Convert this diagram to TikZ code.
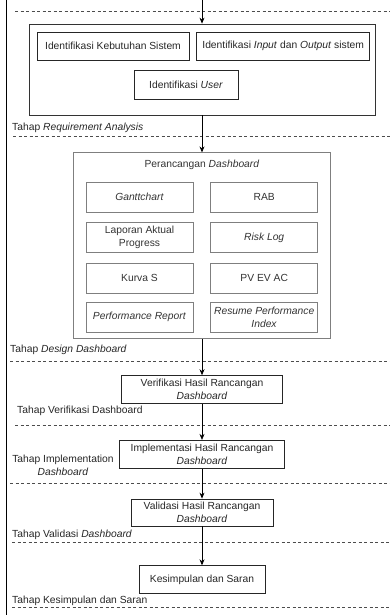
\documentclass[tikz,border=0pt]{standalone}
\usepackage{fontspec}
\setmainfont{Liberation Sans}
\usetikzlibrary{positioning,arrows.meta}
\definecolor{groupgrey}{HTML}{7F7F7F}
\definecolor{textgrey}{HTML}{333333}

\begin{document}
\begin{tikzpicture}[
  x=1pt, y=-1pt,
  font=\fontsize{10.3}{13}\selectfont,
  stage/.style = {draw=black!80, line width=.8pt, minimum width=346pt, minimum height=91pt},
  design_box/.style = {draw=groupgrey, line width=.8pt, minimum width=257pt, minimum height=186pt},
  task/.style = {draw=black!85, line width=.7pt, align=center, inner sep=1pt, text=black!85},
  item/.style = {draw=groupgrey, line width=.7pt, align=center, inner sep=1pt, minimum width=107pt, minimum height=30pt, text=textgrey},
  phase_lab/.style = {anchor=west, inner sep=0pt, text=black!85},
  flow/.style = {-{Stealth[length=6pt,width=5pt]}, line width=.7pt},
  divider/.style = {dash pattern=on 3pt off 2.5pt, black!70, line width=.7pt}
  ]

  \useasboundingbox (0,0) rectangle (390,615);

  \node[stage] (req) at (202,69.5) {};
  \node[task, minimum width=152pt, minimum height=28pt] (kebutuhan) at (113,46) {Identifikasi Kebutuhan Sistem};
  \node[task, minimum width=173pt, minimum height=28pt, right=7pt of kebutuhan] (io) {Identifikasi \textit{Input} dan \textit{Output} sistem};
  \node[task, minimum width=104pt, minimum height=29pt] (user) at (186,84.5) {Identifikasi \textit{User}};

  \node[design_box, below=37pt of req] (design) {};
  \node[text=textgrey] (design_title) at (202,165) {Perancangan \textit{Dashboard}};
  \node[item] (gantt) at (139.5,197) {\textit{Ganttchart}};
  \node[item, right=17pt of gantt] (rab) {RAB};
  \node[item, below=10pt of gantt] (laporan) {Laporan Aktual\\Progress};
  \node[item, below=10pt of rab] (risk) {\textit{Risk Log}};
  \node[item, below=10pt of laporan] (kurva) {Kurva S};
  \node[item, below=10pt of risk] (pvevac) {PV EV AC};
  \node[item, below=8pt of kurva] (perf) {\textit{Performance Report}};
  \node[item, below=8pt of pvevac] (resume) {\textit{Resume Performance}\\\textit{Index}};

  \node[task, minimum width=161pt, minimum height=28pt, below=36pt of design] (verif) {Verifikasi Hasil Rancangan\\\textit{Dashboard}};
  \node[task, minimum width=165pt, minimum height=28pt, below=36pt of verif] (impl) {Implementasi Hasil Rancangan\\\textit{Dashboard}};
  \node[task, minimum width=142pt, minimum height=27pt, below=30pt of impl] (valid) {Validasi Hasil Rancangan\\\textit{Dashboard}};
  \node[task, minimum width=126pt, minimum height=28pt, below=39pt of valid] (kes) {Kesimpulan dan Saran};

  % phase names sit above each dashed divider
  \node[phase_lab] (lab_req) at (12,128) {Tahap \textit{Requirement Analysis}};
  \node[phase_lab] (lab_design) at (10,350) {Tahap \textit{Design Dashboard}};
  \node[phase_lab] (lab_verif) at (17,411) {Tahap Verifikasi Dashboard};
  \node[align=center, text=black!85, inner sep=0pt] (lab_impl) at (63,465) {Tahap Implementation\\\textit{Dashboard}};
  \node[phase_lab] (lab_valid) at (12,535) {Tahap Validasi \textit{Dashboard}};
  \node[phase_lab] (lab_kes) at (12,601) {Tahap Kesimpulan dan Saran};

  \foreach \y/\x in {11/15, 136/13, 361/10, 425/15, 483/10, 542/12, 607/12}
    \draw[divider] (\x,\y) -- (390,\y);
  \draw[line width=.9pt] (6,0) -- (6,615);

  \coordinate (entry) at (202,0);
  \draw[flow] (entry) -- (req);
  \draw[flow] (req) -- (design);
  \draw[flow] (design) -- (verif);
  \draw[flow] (verif) -- (impl);
  \draw[flow] (impl) -- (valid);
  \draw[flow] (valid) -- (kes);

\end{tikzpicture}
\end{document}
